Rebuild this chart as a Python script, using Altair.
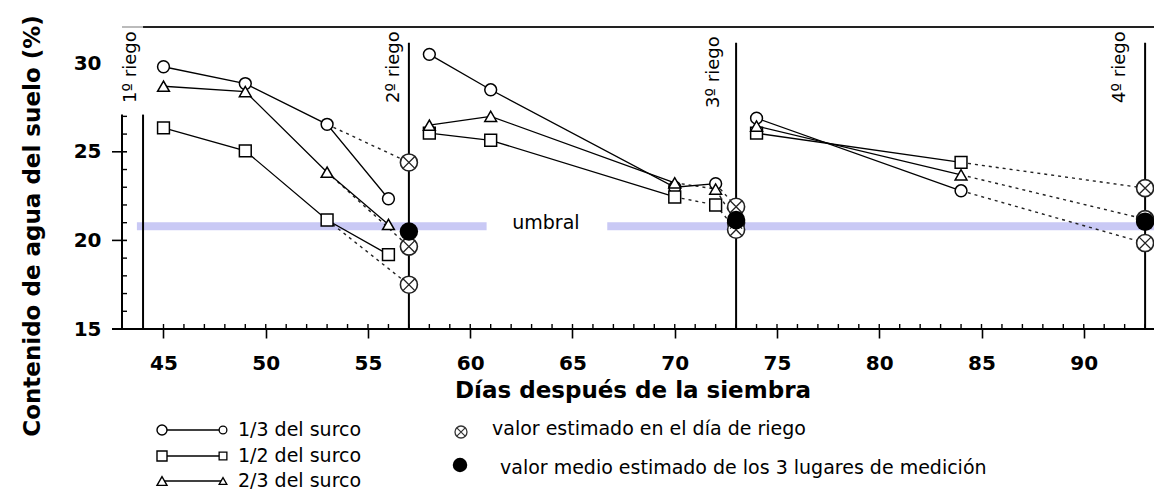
import altair as alt
import pandas as pd

# ---------------- axis values ----------------
x_tick_values = [45, 50, 55, 60, 65, 70, 75, 80, 85, 90]
y_tick_values = [15, 20, 25, 30]
x_minor_ticks = list(range(45, 94))
y_minor_ticks = [16, 17, 18, 19, 21, 22, 23, 24, 26, 27]
y_major_ticks = [20, 25]
x_title = "Días después de la siembra"
y_title = "Contenido de agua del suelo (%)"

series_names = ["1/3 del surco", "1/2 del surco", "2/3 del surco"]
series_shapes = ["circle", "square", "triangle-up"]

# ---------------- measured values (solid lines) ----------------
# 1/3 del surco (circles)
c1_days = [45, 49, 53, 56]; c1_vals = [29.8, 28.85, 26.55, 22.35]
c2_days = [58, 61, 70, 72]; c2_vals = [30.5, 28.5, 23.0, 23.2]
c3_days = [74, 84];         c3_vals = [26.9, 22.8]
# 1/2 del surco (squares)
s1_days = [45, 49, 53, 56]; s1_vals = [26.35, 25.05, 21.15, 19.2]
s2_days = [58, 61, 70];     s2_vals = [26.05, 25.65, 22.45]
s2b_days = [72];            s2b_vals = [22.0]
s3_days = [74, 84];         s3_vals = [26.05, 24.4]
# 2/3 del surco (triangles)
t1_days = [45, 49, 53, 56]; t1_vals = [28.7, 28.4, 23.85, 20.9]
t2_days = [58, 61, 70];     t2_vals = [26.5, 27.0, 23.25]
t2b_days = [72];            t2b_vals = [22.9]
t3_days = [74, 84];         t3_vals = [26.45, 23.7]

# ---------------- dotted (estimated) connections ----------------
cd1_days = [53, 57]; cd1_vals = [26.55, 24.4]
cd2_days = [72, 73]; cd2_vals = [23.2, 21.9]
cd3_days = [84, 93]; cd3_vals = [22.8, 19.85]
sd1_days = [53, 57]; sd1_vals = [21.15, 17.5]
sd2_days = [70, 72, 73]; sd2_vals = [22.45, 22.0, 20.6]
sd3_days = [84, 93]; sd3_vals = [24.4, 22.95]
td1_days = [53, 57]; td1_vals = [23.85, 19.65]
td2_days = [70, 72, 73]; td2_vals = [23.25, 22.9, 21.0]
td3_days = [84, 93]; td3_vals = [23.7, 21.2]

# estimated value on irrigation day and mean of the 3 places
est_days = [57, 57, 57, 73, 73, 73, 93, 93, 93]
est_vals = [24.4, 19.65, 17.5, 21.9, 21.0, 20.6, 22.95, 21.2, 19.85]
mean_days = [57, 73, 93]
mean_vals = [20.5, 21.15, 21.05]

# irrigation events
riego_days = [44, 57, 73, 93]
riego_top = [27.1, 31.15, 31.15, 31.15]
riego_labels = ["1º riego", "2º riego", "3º riego", "4º riego"]
riego_label_top = 31.8

# threshold
umbral_value = 20.8
umbral_start = [43.7, 66.7]
umbral_end = [60.8, 93.43]
umbral_text = "umbral"
umbral_text_day = 63.7
umbral_text_val = 21.0

legend_est_text = "valor estimado en el día de riego"
legend_mean_text = "valor medio estimado de los 3 lugares de medición"

# ---------------- tables ----------------
def rows(days, vals, serie, seg):
    return [{"day": d, "val": v, "serie": serie, "seg": seg} for d, v in zip(days, vals)]

solid = []
solid += rows(c1_days, c1_vals, series_names[0], "c1")
solid += rows(c2_days, c2_vals, series_names[0], "c2")
solid += rows(c3_days, c3_vals, series_names[0], "c3")
solid += rows(s1_days, s1_vals, series_names[1], "s1")
solid += rows(s2_days, s2_vals, series_names[1], "s2")
solid += rows(s3_days, s3_vals, series_names[1], "s3")
solid += rows(t1_days, t1_vals, series_names[2], "t1")
solid += rows(t2_days, t2_vals, series_names[2], "t2")
solid += rows(t3_days, t3_vals, series_names[2], "t3")
solid_df = pd.DataFrame(solid)

markers_df = pd.DataFrame(
    solid
    + rows(s2b_days, s2b_vals, series_names[1], "s2b")
    + rows(t2b_days, t2b_vals, series_names[2], "t2b")
)

dotted = []
dotted += rows(cd1_days, cd1_vals, series_names[0], "cd1")
dotted += rows(cd2_days, cd2_vals, series_names[0], "cd2")
dotted += rows(cd3_days, cd3_vals, series_names[0], "cd3")
dotted += rows(sd1_days, sd1_vals, series_names[1], "sd1")
dotted += rows(sd2_days, sd2_vals, series_names[1], "sd2")
dotted += rows(sd3_days, sd3_vals, series_names[1], "sd3")
dotted += rows(td1_days, td1_vals, series_names[2], "td1")
dotted += rows(td2_days, td2_vals, series_names[2], "td2")
dotted += rows(td3_days, td3_vals, series_names[2], "td3")
dotted_df = pd.DataFrame(dotted)

est_df = pd.DataFrame({"day": est_days, "val": est_vals})
mean_df = pd.DataFrame({"day": mean_days, "val": mean_vals})
riego_df = pd.DataFrame({"day": riego_days, "top": riego_top, "label": riego_labels})
umbral_df = pd.DataFrame({"start": umbral_start, "end": umbral_end, "val": [umbral_value] * 2})
xminor_df = pd.DataFrame({"day": x_minor_ticks})
yminor_df = pd.DataFrame({"v": y_minor_ticks})
ymajor_df = pd.DataFrame({"v": y_major_ticks})
dummy = pd.DataFrame({"k": [0]})

# ---------------- scales / axes ----------------
W, H = 1032, 302
FONT = "DejaVu Sans"
xs = alt.Scale(domain=[42.971, 93.435], nice=False, zero=False)
ys = alt.Scale(domain=[15, 32.043], nice=False, zero=False)
x_axis = alt.Axis(values=x_tick_values, tickSize=9, tickWidth=1.6, tickColor="black",
                  labelFont=FONT, labelFontWeight="bold", labelFontSize=20,
                  labelColor="black", labelPadding=15, domain=False, grid=False,
                  title=None)
y_axis = alt.Axis(values=y_tick_values, tickSize=0, labelFont=FONT,
                  labelFontWeight="bold", labelFontSize=20, labelColor="black",
                  labelPadding=21, domain=False, grid=False, title=None)

def X(field):
    return alt.X(field, type="quantitative", scale=xs, axis=x_axis)

def Y(field):
    return alt.Y(field, type="quantitative", scale=ys, axis=y_axis)

shape_enc = alt.Shape("serie:N", scale=alt.Scale(domain=series_names, range=series_shapes), legend=None)

layers = []

# threshold band
layers.append(alt.Chart(umbral_df).mark_rule(color="#c9c9f5", strokeWidth=8).encode(
    x=X("start"), x2="end", y=Y("val")))
layers.append(alt.Chart(dummy).mark_text(font=FONT, fontSize=19, color="black",
                                         align="center", baseline="middle").encode(
    x=alt.datum(umbral_text_day), y=alt.datum(umbral_text_val), text=alt.value(umbral_text)))

# axis lines, ticks, frame
layers.append(alt.Chart(dummy).mark_rule(color="black", strokeWidth=2).encode(
    x=alt.value(-10), x2=alt.value(W), y=alt.value(H)))
layers.append(alt.Chart(dummy).mark_rule(color="black", strokeWidth=2).encode(
    x=alt.value(0), y=alt.datum(15), y2=alt.datum(27.1)))
layers.append(alt.Chart(xminor_df).mark_rule(color="black", strokeWidth=1.4).encode(
    x=X("day"), y=alt.value(H - 5), y2=alt.value(H)))
layers.append(alt.Chart(yminor_df).mark_rule(color="black", strokeWidth=1.4).encode(
    y=Y("v"), x=alt.value(0), x2=alt.value(5)))
layers.append(alt.Chart(ymajor_df).mark_rule(color="black", strokeWidth=1.6).encode(
    y=Y("v"), x=alt.value(-10), x2=alt.value(5)))
layers.append(alt.Chart(dummy).mark_rule(color="#bbbbbb", strokeWidth=2).encode(
    x=alt.value(0), x2=alt.datum(44), y=alt.value(0)))
layers.append(alt.Chart(dummy).mark_rule(color="#222222", strokeWidth=2).encode(
    x=alt.datum(44), x2=alt.value(W), y=alt.value(0)))

# irrigation lines and labels
layers.append(alt.Chart(riego_df).mark_rule(color="black", strokeWidth=2).encode(
    x=X("day"), y=Y("top"), y2=alt.datum(15)))
label_dy = [-12, -15, -22, -25]
label_dx = [0, 0, -5, 0]
for i, lab in enumerate(riego_labels):
    layers.append(alt.Chart(dummy).mark_text(font=FONT, fontSize=18, color="black", angle=270,
                                             align="right", baseline="middle",
                                             dx=label_dx[i], dy=label_dy[i]).encode(
        x=alt.datum(riego_days[i]), y=alt.datum(riego_label_top), text=alt.value(lab)))

# data lines
layers.append(alt.Chart(dotted_df).mark_line(color="#222222", strokeWidth=1.4, strokeDash=[3, 4]).encode(
    x=X("day"), y=Y("val"), detail="seg:N"))
layers.append(alt.Chart(solid_df).mark_line(color="black", strokeWidth=1.3).encode(
    x=X("day"), y=Y("val"), detail="seg:N"))
layers.append(alt.Chart(markers_df).mark_point(filled=False, color="black", fill="white",
                                               fillOpacity=1, opacity=1, strokeWidth=1.5, size=140).encode(
    x=X("day"), y=Y("val"), shape=shape_enc))

# estimated (circle with cross)
layers.append(alt.Chart(est_df).mark_point(shape="circle", filled=False, color="#222222", fill="white",
                                           fillOpacity=1, opacity=1, strokeWidth=1.6, size=289).encode(
    x=X("day"), y=Y("val")))
layers.append(alt.Chart(est_df).mark_point(shape="M-0.7,-0.7L0.7,0.7M-0.7,0.7L0.7,-0.7", filled=False,
                                           color="#222222", opacity=1, strokeWidth=1.3, size=289).encode(
    x=X("day"), y=Y("val")))
# mean values
layers.append(alt.Chart(mean_df).mark_point(shape="circle", filled=True, color="black", opacity=1,
                                            size=340).encode(x=X("day"), y=Y("val")))

# ---------------- manual legend ----------------
row_y = [403, 429, 454]
for i, name in enumerate(series_names):
    ry = row_y[i]
    layers.append(alt.Chart(dummy).mark_rule(color="black", strokeWidth=1.3).encode(
        x=alt.value(40), x2=alt.value(101), y=alt.value(ry)))
    layers.append(alt.Chart(dummy).mark_point(shape=series_shapes[i], filled=False, color="black",
                                              fill="white", fillOpacity=1, opacity=1,
                                              strokeWidth=1.4, size=100).encode(
        x=alt.value(40), y=alt.value(ry)))
    layers.append(alt.Chart(dummy).mark_point(shape=series_shapes[i], filled=False, color="black",
                                              fill="white", fillOpacity=1, opacity=1,
                                              strokeWidth=1.3, size=60).encode(
        x=alt.value(101), y=alt.value(ry)))
    layers.append(alt.Chart(dummy).mark_text(font=FONT, fontSize=19, color="black", align="left",
                                             baseline="middle").encode(
        x=alt.value(116), y=alt.value(ry), text=alt.value(name)))

layers.append(alt.Chart(dummy).mark_point(shape="circle", filled=False, color="#333333", fill="white",
                                          fillOpacity=1, opacity=1, strokeWidth=1.3, size=144).encode(
    x=alt.value(339), y=alt.value(405)))
layers.append(alt.Chart(dummy).mark_point(shape="M-0.7,-0.7L0.7,0.7M-0.7,0.7L0.7,-0.7", filled=False,
                                          color="#333333", opacity=1, strokeWidth=1.2, size=144).encode(
    x=alt.value(339), y=alt.value(405)))
layers.append(alt.Chart(dummy).mark_text(font=FONT, fontSize=19, color="black", align="left",
                                         baseline="middle").encode(
    x=alt.value(370), y=alt.value(402), text=alt.value(legend_est_text)))
layers.append(alt.Chart(dummy).mark_point(shape="circle", filled=True, color="black", opacity=1,
                                          size=210).encode(x=alt.value(338), y=alt.value(438)))
layers.append(alt.Chart(dummy).mark_text(font=FONT, fontSize=19, color="black", align="left",
                                         baseline="middle").encode(
    x=alt.value(378), y=alt.value(441), text=alt.value(legend_mean_text)))

# titles
layers.append(alt.Chart(dummy).mark_text(font=FONT, fontSize=23, fontWeight="bold", color="black",
                                         align="center", baseline="alphabetic").encode(
    x=alt.value(511), y=alt.value(371), text=alt.value(x_title)))
layers.append(alt.Chart(dummy).mark_text(font=FONT, fontSize=23, fontWeight="bold", color="black",
                                         angle=270, align="center", baseline="middle").encode(
    x=alt.value(-89), y=alt.value(199), text=alt.value(y_title)))

chart = alt.layer(*layers).properties(
    width=W, height=H,
    autosize=alt.AutoSizeParams(type="none"),
    padding={"left": 114, "top": 19, "right": 0, "bottom": 162},
    background="white",
).configure_view(stroke=None)

chart.save("out.html", embed_options={"renderer": "svg", "actions": False})
